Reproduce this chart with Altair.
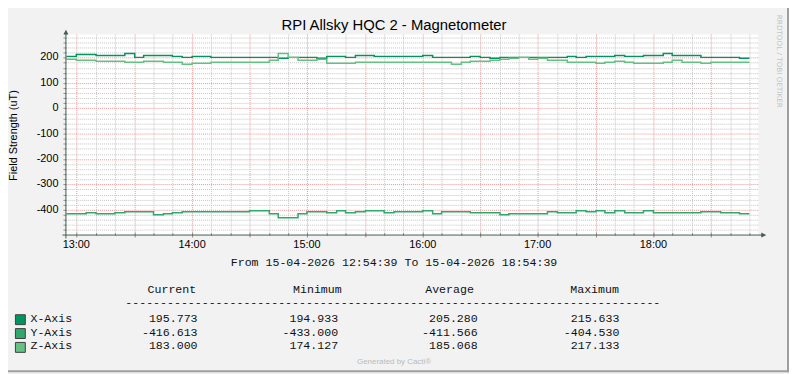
import altair as alt
import pandas as pd

# ---------------- texts ----------------
TITLE = "RPI Allsky HQC 2 - Magnetometer"
Y_TITLE = "Field Strength (uT)"
PERIOD = "From 15-04-2026 12:54:39 To 15-04-2026 18:54:39"
FOOTER = "Generated by Cacti®"
WATERMARK = "RRDTOOL / TOBI OETIKER"

# ---------------- legend ----------------
series_names = ["X-Axis", "Y-Axis", "Z-Axis"]
series_colors = ["#00955F", "#30A86D", "#63C184"]
legend_headers = ["Current", "Minimum", "Average", "Maximum"]
legend_current = [195.773, -416.613, 183.000]
legend_minimum = [194.933, -433.000, 174.127]
legend_average = [205.280, -411.566, 185.068]
legend_maximum = [215.633, -404.530, 217.133]

# ---------------- axes (time in minutes after midnight) ----------------
t_start = 774.65   # 12:54:39
t_end = 1134.65    # 18:54:39
sample_times = [774.65] + list(range(780, 1130, 5)) + [1130]
hour_ticks = [780, 840, 900, 960, 1020, 1080]
hour_labels = ["13:00", "14:00", "15:00", "16:00", "17:00", "18:00"]
y_ticks = [-400, -300, -200, -100, 0, 100, 200]
y_labels = ["-400", "-300", "-200", "-100", "0", "100", "200"]

# ---------------- series (5-minute samples) ----------------
x_values = [206, 214, 211, 208, 208, 210, 215, 203, 208, 209,
            208, 206, 200, 206, 206, 203, 203, 200, 200, 200,
            200, 200, 199, 203, 200, 200, 199, 207, 205, 203,
            210, 210, 207, 207, 207, 204, 204, 210, 200, 200,
            202, 202, 205, 202, 199, 203, 203, 201, 200, 200,
            201, 200, 206, 200, 206, 204, 206, 210, 205, 206,
            210, 210, 215, 209, 208, 208, 200, 203, 203, 203,
            196]
y_values = [-417, -417, -413, -417, -417, -413, -409, -409, -409, -421,
            -417, -412, -408, -408, -408, -408, -410, -408, -408, -404,
            -404, -417, -433, -433, -417, -409, -409, -413, -404, -413,
            -409, -404, -404, -412, -409, -409, -409, -404, -417, -408,
            -408, -408, -412, -412, -412, -421, -417, -417, -417, -417,
            -408, -412, -412, -404, -408, -404, -412, -404, -412, -412,
            -404, -412, -412, -412, -412, -412, -408, -408, -412, -412,
            -417]
z_values = [195, 189, 189, 186, 186, 186, 183, 183, 184, 184,
            183, 182, 174, 177, 177, 181, 181, 182, 182, 180,
            180, 190, 217, 203, 191, 191, 193, 177, 178, 178,
            181, 181, 180, 180, 180, 182, 182, 181, 181, 181,
            175, 180, 186, 184, 189, 195, 197, 200, 195, 197,
            191, 188, 182, 182, 182, 176, 182, 186, 180, 179,
            176, 176, 182, 190, 183, 183, 177, 183, 183, 180,
            183]

# ---------------- layout ----------------
W, H = 699, 203
OX, OY = 67, 33  # plot origin in picture coordinates

AXIS_COLOR = "#3F5D50"
GRID_MINOR = "#C4C4C4"
GRID_MAJOR = "#EB9595"
SANS = "Liberation Sans"
MONO = "Liberation Mono"

xscale = alt.Scale(domain=[t_start, t_end], nice=False, zero=False, round=True)
yscale = alt.Scale(domain=[-502, 291], nice=False, zero=False, round=True)

one = pd.DataFrame({"a": [0]})


def px(rx):
    return rx - OX


def py(ry):
    return ry - OY


def text_layer(txt, rx, ry, size, font=SANS, color="#000000", align="left",
               baseline="alphabetic", angle=0):
    kw = dict(align=align, baseline=baseline, font=font, fontSize=size, color=color)
    if angle:
        kw["angle"] = angle
    return alt.Chart(one).mark_text(**kw).encode(
        x=alt.value(px(rx)), y=alt.value(py(ry)), text=alt.value(txt))


layers = []

# grid lines
minor_t = [t for t in range(780, 1131, 10) if (t - 780) % 30 != 0]
major_t = list(range(780, 1131, 30))
minor_v = [v for v in range(-480, 291, 20) if v % 100 != 0]
major_v = list(range(-400, 291, 100))

for vals, col in ((minor_t, GRID_MINOR), (major_t, GRID_MAJOR)):
    layers.append(alt.Chart(pd.DataFrame({"t": vals})).mark_rule(
        color=col, strokeWidth=1, strokeDash=[1, 1], xOffset=0.5).encode(
        x=alt.X("t:Q", scale=xscale, axis=None),
        y=alt.value(0), y2=alt.value(H)))
for vals, col in ((minor_v, GRID_MINOR), (major_v, GRID_MAJOR)):
    layers.append(alt.Chart(pd.DataFrame({"v": vals})).mark_rule(
        color=col, strokeWidth=1, strokeDash=[1, 1], yOffset=0.5).encode(
        y=alt.Y("v:Q", scale=yscale, axis=None),
        x=alt.value(0), x2=alt.value(W)))

# small ticks
layers.append(alt.Chart(pd.DataFrame({"t": minor_t})).mark_rule(
    color="#909090", strokeWidth=1, xOffset=0.5).encode(
    x=alt.X("t:Q", scale=xscale, axis=None), y=alt.value(H - 2.5), y2=alt.value(H)))
layers.append(alt.Chart(pd.DataFrame({"t": major_t})).mark_rule(
    color="#909090", strokeWidth=1, xOffset=0.5).encode(
    x=alt.X("t:Q", scale=xscale, axis=None), y=alt.value(H - 3), y2=alt.value(H + 2)))
layers.append(alt.Chart(pd.DataFrame({"v": minor_v + major_v})).mark_rule(
    color="#909090", strokeWidth=1, yOffset=0.5).encode(
    y=alt.Y("v:Q", scale=yscale, axis=None), x=alt.value(-3), x2=alt.value(0)))

# data lines
rows = []
for name, vals in zip(series_names, [x_values, y_values, z_values]):
    for t, v in zip(sample_times, vals + [vals[-1]]):
        rows.append({"t": t, "v": v, "s": name})
df = pd.DataFrame(rows)

layers.append(alt.Chart(df).mark_line(interpolate="step-after", strokeWidth=1.5).encode(
    x=alt.X("t:Q", scale=xscale, axis=None),
    y=alt.Y("v:Q", scale=yscale, axis=None),
    color=alt.Color("s:N", scale=alt.Scale(domain=series_names, range=series_colors),
                    legend=None),
    detail="s:N"))

# tick labels (drawn through the scales)
layers.append(alt.Chart(pd.DataFrame({"t": hour_ticks, "lab": hour_labels})).mark_text(
    align="center", baseline="alphabetic", font=SANS, fontSize=11, color="#000000").encode(
    x=alt.X("t:Q", scale=xscale, axis=None), y=alt.value(py(249)), text="lab:N"))
layers.append(alt.Chart(pd.DataFrame({"v": y_ticks, "lab": y_labels})).mark_text(
    align="right", baseline="middle", font=SANS, fontSize=11, color="#000000").encode(
    y=alt.Y("v:Q", scale=yscale, axis=None), x=alt.value(px(59)), text="lab:N"))

# axis lines and arrows
layers.append(alt.Chart(one).mark_rule(color=AXIS_COLOR, strokeWidth=1).encode(
    x=alt.value(-4), x2=alt.value(W + 4), y=alt.value(H - 0.5)))
layers.append(alt.Chart(one).mark_rule(color=AXIS_COLOR, strokeWidth=1).encode(
    x=alt.value(-0.5), y=alt.value(-3), y2=alt.value(H + 3)))
layers.append(alt.Chart(one).mark_point(shape="M-1,-1L1,0L-1,1Z", size=25, filled=True,
                                        opacity=1, color=AXIS_COLOR).encode(
    x=alt.value(W + 5.5), y=alt.value(H - 0.5)))
layers.append(alt.Chart(one).mark_point(shape="M-1,1L0,-1L1,1Z", size=25, filled=True,
                                        opacity=1, color=AXIS_COLOR).encode(
    x=alt.value(-0.5), y=alt.value(-2.5)))

# titles
layers.append(text_layer(TITLE, 398, 28, 15, align="center"))
layers.append(text_layer(Y_TITLE, 17.5, 135, 11, align="center", angle=270))
layers.append(text_layer(PERIOD, 398, 267, 11.7, font=MONO, align="center", color="#111111"))

# legend header
header_x = [149, 296, 429.5, 576]
for h, hx in zip(legend_headers, header_x):
    layers.append(text_layer(h, hx, 294.5, 11.7, font=MONO, color="#111111"))
layers.append(text_layer("-" * 77, 126.5, 307, 11.7, font=MONO, color="#111111"))

# legend rows
value_x = [199.5, 341.5, 482.5, 625.7]
row_base = [323, 337, 351]
for i, name in enumerate(series_names):
    layers.append(alt.Chart(one).mark_square(size=100, filled=True, opacity=1,
                                             color=series_colors[i], stroke="#404040",
                                             strokeWidth=1).encode(
        x=alt.value(px(20.5)), y=alt.value(py(row_base[i] - 2))))
    layers.append(text_layer(name, 30.7, row_base[i], 11.7, font=MONO, color="#111111"))
    stats = [legend_current[i], legend_minimum[i], legend_average[i], legend_maximum[i]]
    for v, vx in zip(stats, value_x):
        layers.append(text_layer(f"{v:.3f}", vx, row_base[i], 11.7, font=MONO,
                                 color="#111111", align="right"))

# footer and watermark
layers.append(text_layer(FOOTER, 398, 365.5, 8, color="#BBBBBB", align="center"))
layers.append(text_layer(WATERMARK, 786.5, 60, 7.3, font="DejaVu Sans", color="#C4C4C4",
                         align="center", baseline="middle", angle=90))

# outer border (right / bottom)
layers.append(alt.Chart(one).mark_rule(color="#9E9E9E", strokeWidth=2).encode(
    x=alt.value(px(796)), y=alt.value(py(0)), y2=alt.value(py(374))))
layers.append(alt.Chart(one).mark_rule(color="#9E9E9E", strokeWidth=2).encode(
    y=alt.value(py(373)), x=alt.value(px(0)), x2=alt.value(px(797))))

chart = alt.layer(*layers).properties(
    width=W, height=H,
    autosize=alt.AutoSizeParams(type="none"),
    padding={"left": 59, "top": 25, "right": 31, "bottom": 138},
).configure(background="#F2F2F2").configure_view(stroke=None, fill="#FFFFFF")

chart.save("out.html", embed_options={"renderer": "svg", "actions": False})
